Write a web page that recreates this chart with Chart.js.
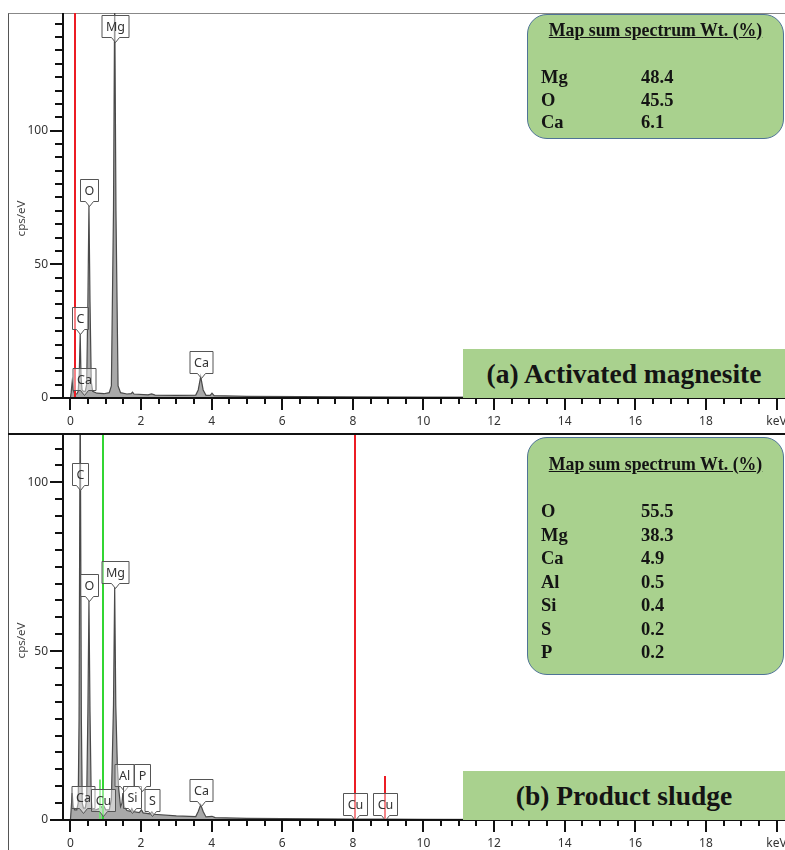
<!DOCTYPE html>
<html>
<head>
<meta charset="utf-8">
<script src="https://cdn.jsdelivr.net/npm/chart.js@4/dist/chart.umd.min.js"></script>
<style>
  html, body { margin: 0; padding: 0; background: #fff; }
  body { width: 785px; height: 850px; position: relative; overflow: hidden; }
  canvas { position: absolute; left: 9px; }
  #frame { position: absolute; left: 8px; top: 13px; width: 777px; height: 837px;
           border-left: 1px solid #555; border-top: 1px solid #888; box-sizing: border-box; }
  #sep { position: absolute; left: 8px; top: 433px; width: 777px; height: 2px; background: #111; }
  .wt { position: absolute; background: #a9d18e; border: 1.5px solid #4f7396; border-radius: 20px;
        box-sizing: border-box; font-family: "Liberation Serif", "Times New Roman", serif;
        font-weight: bold; color: #141414; }
  .wt .head { position: absolute; left: 0; right: 0; text-align: center; text-decoration: underline;
              font-size: 17.8px; line-height: 20px; }
  .wt .el, .wt .val { position: absolute; font-size: 18.5px; line-height: 20px; }
  .banner { position: absolute; left: 463px; width: 322px; height: 49px; background: #a9d18e;
            font-family: "Liberation Serif", "Times New Roman", serif; font-weight: bold;
            font-size: 27.5px; line-height: 49px; text-align: center; color: #141414; }
</style>
</head>
<body>
<div id="frame"></div>
<canvas id="specA" width="776" height="421" style="top:13px"></canvas>
<canvas id="specB" width="776" height="415" style="top:435px"></canvas>
<div id="sep"></div>
<div id="boxA" class="wt" style="left:527px;top:14px;width:257px;height:125px"></div>
<div id="boxB" class="wt" style="left:527px;top:437px;width:257px;height:238px"></div>
<div class="banner" style="top:349px">(a) Activated magnesite</div>
<div class="banner" style="top:771px">(b) Product sludge</div>

<script>
// ---- Spectrum (a): activated magnesite ----
const specA_keV = [0.00, 0.02, 0.05, 0.08, 0.12, 0.18, 0.22, 0.25, 0.277, 0.30, 0.33, 0.37, 0.42, 0.46,
  0.495, 0.525, 0.555, 0.59, 0.63, 0.75, 0.95, 1.10, 1.16, 1.22, 1.254, 1.29, 1.35, 1.42, 1.60, 1.72,
  1.76, 1.80, 2.20, 2.30, 2.40, 3.00, 3.55, 3.62, 3.69, 3.76, 3.84, 3.96, 4.01, 4.07, 5.00, 6.50, 8.00,
  10.0, 14.0, 20.24];
const specA_cps = [0, 2, 6, 3, 1.5, 1.5, 2.5, 9, 24, 8, 3, 2.5, 2.5, 5,
  36, 72, 36, 6, 2.5, 1.8, 1.6, 2, 4.5, 70, 150, 70, 4.5, 2, 1.5, 1.6,
  2.2, 1.5, 1.2, 1.5, 1.1, 1.0, 1.1, 3, 8, 3, 1.0, 1.0, 1.8, 0.9, 0.6, 0.5, 0.4,
  0.3, 0.2, 0.1];

// ---- Spectrum (b): product sludge ----
const specB_keV = [0.00, 0.02, 0.05, 0.08, 0.12, 0.18, 0.22, 0.245, 0.277, 0.31, 0.335, 0.37, 0.42, 0.46,
  0.495, 0.525, 0.555, 0.59, 0.63, 0.72, 0.85, 0.93, 1.00, 1.10, 1.16, 1.22, 1.254, 1.285, 1.33, 1.37,
  1.42, 1.46, 1.486, 1.52, 1.60, 1.70, 1.74, 1.78, 1.95, 2.013, 2.06, 2.25, 2.307, 2.36, 3.00, 3.55,
  3.62, 3.69, 3.76, 3.84, 4.01, 4.10, 5.00, 8.00, 8.04, 8.10, 8.90, 10.0, 14.0, 20.24];
const specB_cps = [0, 3, 8, 4, 3, 3, 5, 30, 130, 30, 5, 3.5, 3.5, 6,
  32, 65, 32, 6, 3, 3, 3.5, 4.5, 3, 3, 6, 34, 69, 34, 16, 9,
  4, 5, 8, 4, 2.8, 2.6, 3.4, 2.5, 2.2, 3, 2.1, 1.8, 2.4, 1.7, 1.2, 1.0,
  2.5, 4.5, 2.5, 0.9, 1.1, 0.7, 0.5, 0.3, 0.5, 0.3, 0.25, 0.2, 0.15, 0.1];

// Peak identification callouts: element, energy (keV), height of the pointer tip (cps/eV)
const peaksA_el  = ['Mg', 'O', 'C', 'Ca', 'Ca'];
const peaksA_keV = [1.254, 0.525, 0.277, 0.38, 3.69];
const peaksA_cps = [133, 72, 24, 1.2, 7.5];

const peaksB_el  = ['C', 'O', 'Mg', 'Ca', 'Cu', 'Al', 'Si', 'P', 'S', 'Ca', 'Cu', 'Cu'];
const peaksB_keV = [0.277, 0.525, 1.254, 0.35, 0.92, 1.51, 1.75, 2.03, 2.32, 3.69, 8.06, 8.92];
const peaksB_cps = [97.7, 64.8, 68.7, 2, 1.2, 8.6, 2, 8.6, 1.2, 4.2, 0, 0];

// Element marker lines: energy (keV), top (cps/eV, null = full height), colour
const markA_keV = [0.13];
const markA_top = [null];
const markA_col = ['#ec1c24'];

const markB_keV = [0.93, 0.85, 8.05, 8.92];
const markB_top = [null, 12, null, 13];
const markB_col = ['#33d633', '#77e077', '#ec1c24', '#ec1c24'];

// Quantification tables
const wtA_el  = ['Mg', 'O', 'Ca'];
const wtA_val = [48.4, 45.5, 6.1];
const wtB_el  = ['O', 'Mg', 'Ca', 'Al', 'Si', 'S', 'P'];
const wtB_val = [55.5, 38.3, 4.9, 0.5, 0.4, 0.2, 0.2];

// Axis ranges
const xMin = -0.21, xMax = 20.24;
const yMaxA = 144, yMaxB = 114;

const AXIS_FONT = '"Noto Sans", "Open Sans", sans-serif';

function fillBox(id, els, vals, headTop, rowTop, rowGap) {
  const box = document.getElementById(id);
  let html = '<div class="head" style="top:' + headTop + 'px">Map sum spectrum Wt. (%)</div>';
  els.forEach((e, i) => {
    const t = rowTop + i * rowGap;
    html += '<div class="el" style="left:13px;top:' + t + 'px">' + e + '</div>';
    html += '<div class="val" style="left:113px;top:' + t + 'px">' + vals[i].toFixed(1) + '</div>';
  });
  box.innerHTML = html;
}
fillBox('boxA', wtA_el, wtA_val, 5, 52, 22.5);
fillBox('boxB', wtB_el, wtB_val, 16, 63, 23.5);

// Draws marker lines, axes, tick marks, peak callouts and the y-axis title
const spectrumDecor = {
  id: 'spectrumDecor',
  afterDatasetsDraw(chart, args, opts) {
    const { ctx, chartArea: a, scales: { x, y } } = chart;
    ctx.save();

    // element marker lines
    opts.marks.keV.forEach((k, i) => {
      const px = Math.round(x.getPixelForValue(k));
      const top = opts.marks.top[i] == null ? a.top : y.getPixelForValue(opts.marks.top[i]);
      ctx.strokeStyle = opts.marks.col[i];
      ctx.lineWidth = 2;
      ctx.beginPath();
      ctx.moveTo(px, a.bottom);
      ctx.lineTo(px, top);
      ctx.stroke();
    });

    // peak callouts
    ctx.font = '12.5px ' + AXIS_FONT;
    ctx.textAlign = 'center';
    ctx.textBaseline = 'middle';
    opts.peaks.el.forEach((txt, i) => {
      const cx = Math.round(x.getPixelForValue(opts.peaks.keV[i])) + 0.5;
      const tip = Math.round(y.getPixelForValue(opts.peaks.cps[i])) + 0.5;
      const w = Math.round(ctx.measureText(txt).width) + 8;
      const h = 22;
      const bottom = tip - 5, top = bottom - h;
      const l = cx - w / 2, r = cx + w / 2;
      ctx.beginPath();
      ctx.moveTo(l, top);
      ctx.lineTo(r, top);
      ctx.lineTo(r, bottom);
      ctx.lineTo(cx + 4, bottom);
      ctx.lineTo(cx, tip);
      ctx.lineTo(cx - 4, bottom);
      ctx.lineTo(l, bottom);
      ctx.closePath();
      ctx.fillStyle = 'rgba(255,255,255,0.45)';
      ctx.fill();
      ctx.strokeStyle = '#555';
      ctx.lineWidth = 1;
      ctx.stroke();
      ctx.fillStyle = '#333';
      ctx.fillText(txt, cx, top + h / 2 + 1);
    });

    // axes
    ctx.strokeStyle = '#111';
    ctx.lineWidth = 2;
    ctx.beginPath();
    ctx.moveTo(a.left, a.top);
    ctx.lineTo(a.left, a.bottom);
    ctx.lineTo(a.right, a.bottom);
    ctx.stroke();

    // tick marks: long at labelled values, short in between
    ctx.beginPath();
    x.ticks.forEach(t => {
      const v = t.value;
      if (Math.abs(v * 2 - Math.round(v * 2)) > 1e-6) return;
      const major = Math.abs(v / 2 - Math.round(v / 2)) < 1e-6;
      const px = Math.round(x.getPixelForValue(v));
      ctx.moveTo(px, a.bottom);
      ctx.lineTo(px, a.bottom + (major ? 12 : 6));
    });
    y.ticks.forEach(t => {
      const v = t.value;
      if (Math.abs(v / 5 - Math.round(v / 5)) > 1e-6) return;
      const major = Math.abs(v / 50 - Math.round(v / 50)) < 1e-6;
      const py = Math.round(y.getPixelForValue(v));
      ctx.moveTo(a.left, py);
      ctx.lineTo(a.left - (major ? 13 : 8), py);
    });
    ctx.stroke();

    // y-axis title
    ctx.save();
    ctx.translate(13, (a.top + a.bottom) / 2 + 13);
    ctx.rotate(-Math.PI / 2);
    ctx.font = '11.5px ' + AXIS_FONT;
    ctx.fillStyle = '#444';
    ctx.textAlign = 'center';
    ctx.textBaseline = 'middle';
    ctx.fillText('cps/eV', 0, 0);
    ctx.restore();

    ctx.restore();
  }
};

function makeSpectrum(canvasId, keV, cps, yMax, xAxisHeight, peaks, marks) {
  const pts = keV.map((k, i) => ({ x: k, y: cps[i] }));
  return new Chart(document.getElementById(canvasId), {
    type: 'line',
    data: {
      datasets: [{
        data: pts,
        borderColor: '#4a4a4a',
        borderWidth: 1.2,
        backgroundColor: '#a8a8a8',
        fill: 'origin',
        pointRadius: 0,
        tension: 0
      }]
    },
    options: {
      responsive: false,
      animation: false,
      devicePixelRatio: 1,
      layout: { padding: 0 },
      events: [],
      plugins: {
        legend: { display: false },
        tooltip: { enabled: false },
        spectrumDecor: { peaks, marks }
      },
      scales: {
        x: {
          type: 'linear', min: xMin, max: xMax,
          grid: { display: false, drawTicks: false },
          border: { display: false },
          ticks: {
            stepSize: 0.5, includeBounds: false, autoSkip: false, maxRotation: 0,
            padding: 16, color: '#333', font: { family: AXIS_FONT, size: 12 },
            callback: v => (Math.abs(v - 20) < 1e-6 ? 'keV' :
              (Math.abs(v / 2 - Math.round(v / 2)) < 1e-6 ? String(Math.round(v)) : ''))
          },
          afterFit: s => { s.height = xAxisHeight; s.paddingLeft = 0; s.paddingRight = 0; }
        },
        y: {
          type: 'linear', min: 0, max: yMax,
          grid: { display: false, drawTicks: false },
          border: { display: false },
          ticks: {
            stepSize: 5, includeBounds: false, autoSkip: false,
            padding: 15, color: '#333', font: { family: AXIS_FONT, size: 12 },
            callback: v => (Math.abs(v / 50 - Math.round(v / 50)) < 1e-6 ? String(v) : '')
          },
          afterFit: s => { s.width = 54; s.paddingTop = 0; s.paddingBottom = 0; }
        }
      }
    },
    plugins: [spectrumDecor]
  });
}

makeSpectrum('specA', specA_keV, specA_cps, yMaxA, 36,
  { el: peaksA_el, keV: peaksA_keV, cps: peaksA_cps },
  { keV: markA_keV, top: markA_top, col: markA_col });
makeSpectrum('specB', specB_keV, specB_cps, yMaxB, 30,
  { el: peaksB_el, keV: peaksB_keV, cps: peaksB_cps },
  { keV: markB_keV, top: markB_top, col: markB_col });
</script>
</body>
</html>
